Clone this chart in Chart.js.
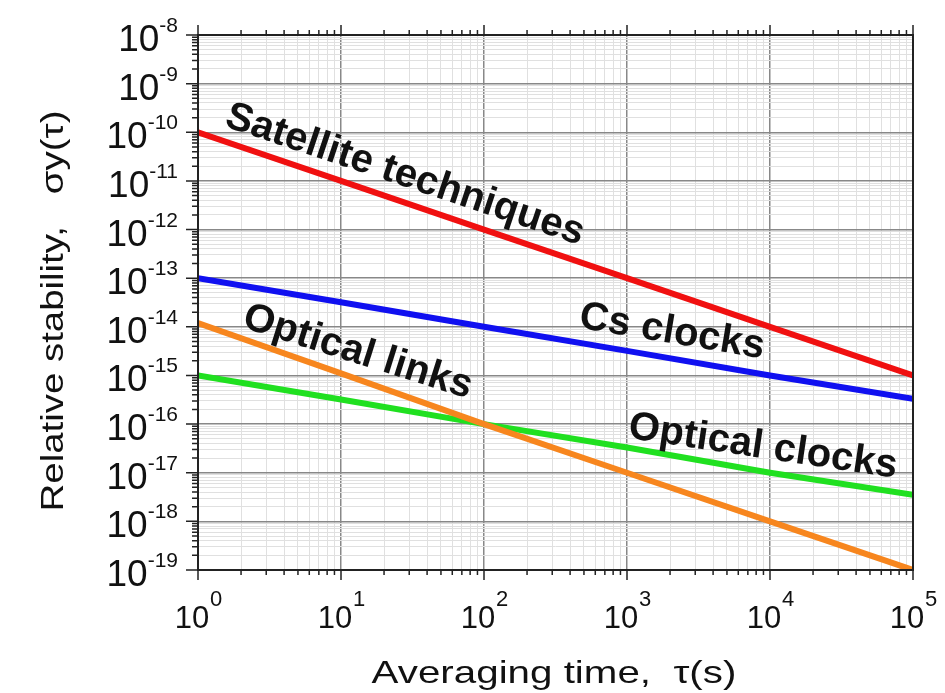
<!DOCTYPE html>
<html>
<head>
<meta charset="utf-8">
<script src="https://cdn.jsdelivr.net/npm/chart.js@4.4.0/dist/chart.umd.min.js"></script>
<style>
  html, body { margin: 0; padding: 0; background: #fff; }
  #wrap { width: 945px; height: 693px; }
</style>
</head>
<body>
<div id="wrap"><canvas id="chart"></canvas></div>
<script>
// averaging time tau (s) and stability curves
const tau = [1, 10, 100, 1000, 10000, 100000];
const satellite = [1e-10, 1e-11, 1e-12, 1e-13, 1e-14, 1e-15];
const csClocks = [1e-13, 3.2e-14, 1e-14, 3.2e-15, 1e-15, 3.3e-16];
const opticalLinks = [1.2e-14, 1.1e-15, 1e-16, 1e-17, 1e-18, 1e-19];
const opticalClocks = [1e-15, 3.2e-16, 1e-16, 3.3e-17, 1e-17, 3.5e-18];

// decade exponents used for tick labels
const xExponents = [0, 1, 2, 3, 4, 5];
const yExponents = [-8, -9, -10, -11, -12, -13, -14, -15, -16, -17, -18, -19];

const seriesNames = ['Satellite techniques', 'Cs clocks', 'Optical links', 'Optical clocks'];
const seriesColors = ['#f01010', '#1010f0', '#f7861e', '#20e020'];

// text placed along each curve (tau, sigma, rotation in degrees)
const curveLabels = [
  { text: 'Satellite techniques', x: 28, y: 1.32e-11, angle: 18.5 },
  { text: 'Cs clocks', x: 2065, y: 7.8e-15, angle: 9.5 },
  { text: 'Optical links', x: 13.1, y: 3.0e-15, angle: 17.5 },
  { text: 'Optical clocks', x: 8930, y: 3.4e-17, angle: 8.5 }
];

const FONT = "'Liberation Sans', Arial, sans-serif";

function logTicks(exps) {
  const lo = Math.min(...exps), hi = Math.max(...exps);
  const ticks = [];
  for (let e = lo; e <= hi; e++) {
    ticks.push({ value: Math.pow(10, e), major: true });
    if (e < hi) {
      for (let m = 2; m <= 9; m++) ticks.push({ value: m * Math.pow(10, e), major: false });
    }
  }
  return ticks;
}

function gridColor(ctx) {
  return ctx.tick && ctx.tick.major ? '#888888' : '#e0e0e0';
}
function gridWidth(ctx) {
  return ctx.tick && ctx.tick.major ? 1.5 : 1;
}

const decorPlugin = {
  id: 'decor',
  afterDatasetsDraw(chart) {
    const ctx = chart.ctx;
    const xs = chart.scales.x, ys = chart.scales.y;
    const area = chart.chartArea;

    // labels on the curves
    ctx.save();
    ctx.fillStyle = '#111';
    ctx.font = 'bold 40px ' + FONT;
    ctx.textAlign = 'center';
    ctx.textBaseline = 'middle';
    curveLabels.forEach(l => {
      ctx.save();
      ctx.translate(xs.getPixelForValue(l.x), ys.getPixelForValue(l.y));
      ctx.rotate(l.angle * Math.PI / 180);
      ctx.fillText(l.text, 0, 0);
      ctx.restore();
    });
    ctx.restore();

    // frame
    ctx.save();
    ctx.strokeStyle = '#222';
    ctx.lineWidth = 2;
    ctx.strokeRect(area.left, area.top, area.right - area.left, area.bottom - area.top);

    // tick marks
    ctx.lineWidth = 1.5;
    ctx.beginPath();
    xs.ticks.forEach(t => {
      const px = xs.getPixelForValue(t.value);
      const len = t.major ? 10 : 5;
      ctx.moveTo(px, area.bottom); ctx.lineTo(px, area.bottom + len);
      ctx.moveTo(px, area.top); ctx.lineTo(px, area.top - len);
    });
    ys.ticks.forEach(t => {
      const py = ys.getPixelForValue(t.value);
      const len = t.major ? 12 : 6;
      ctx.moveTo(area.left, py); ctx.lineTo(area.left - len, py);
    });
    ctx.stroke();

    // tick labels with superscript exponents
    ctx.fillStyle = '#111';
    ctx.textBaseline = 'alphabetic';
    yExponents.forEach(e => {
      const py = ys.getPixelForValue(Math.pow(10, e));
      const sup = String(e);
      ctx.font = '21px ' + FONT;
      const supW = ctx.measureText(sup).width;
      const supX = 178 - supW;
      ctx.textAlign = 'left';
      ctx.fillText(sup, supX, py - 3);
      ctx.font = '37px ' + FONT;
      ctx.textAlign = 'right';
      ctx.fillText('10', supX, py + 16);
    });
    xExponents.forEach(e => {
      const px = xs.getPixelForValue(Math.pow(10, e));
      const sup = String(e);
      ctx.textAlign = 'left';
      ctx.font = '31px ' + FONT;
      const baseW = ctx.measureText('10').width;
      ctx.font = '22px ' + FONT;
      const supW = ctx.measureText(sup).width;
      const x0 = px - (baseW + supW) / 2;
      ctx.font = '31px ' + FONT;
      ctx.fillText('10', x0, 628);
      ctx.font = '22px ' + FONT;
      ctx.fillText(sup, x0 + baseW + 1, 606);
    });

    // axis titles
    ctx.font = '32px ' + FONT;
    ctx.textAlign = 'center';
    ctx.save();
    ctx.translate(554, 683);
    ctx.scale(1.26, 1);
    ctx.fillText('Averaging time,  \u03c4(s)', 0, 0);
    ctx.restore();
    ctx.save();
    ctx.translate(63, 311);
    ctx.rotate(-Math.PI / 2);
    ctx.scale(1.2, 1);
    ctx.fillText('Relative stability,   \u03c3y(\u03c4)', 0, 0);
    ctx.restore();
    ctx.restore();
  }
};

const seriesData = [satellite, csClocks, opticalLinks, opticalClocks];

new Chart(document.getElementById('chart'), {
  type: 'line',
  data: {
    labels: tau,
    datasets: seriesData.map((vals, i) => ({
      label: seriesNames[i],
      data: tau.map((t, j) => ({ x: t, y: vals[j] })),
      borderColor: seriesColors[i],
      borderWidth: 6,
      pointRadius: 0,
      tension: 0,
      fill: false
    }))
  },
  options: {
    responsive: true,
    maintainAspectRatio: false,
    animation: false,
    layout: { padding: { left: 198, top: 35, right: 32, bottom: 123 } },
    plugins: { legend: { display: false }, tooltip: { enabled: false } },
    scales: {
      x: {
        type: 'logarithmic',
        min: 1,
        max: 1e5,
        afterBuildTicks: scale => { scale.ticks = logTicks(xExponents); },
        afterFit: scale => { scale.height = 0; },
        ticks: { display: false },
        border: { display: false },
        grid: { color: gridColor, lineWidth: gridWidth, drawTicks: false }
      },
      y: {
        type: 'logarithmic',
        min: 1e-19,
        max: 1e-8,
        afterBuildTicks: scale => { scale.ticks = logTicks(yExponents); },
        afterFit: scale => { scale.width = 0; },
        ticks: { display: false },
        border: { display: false },
        grid: { color: gridColor, lineWidth: gridWidth, drawTicks: false }
      }
    }
  },
  plugins: [decorPlugin]
});
</script>
</body>
</html>
